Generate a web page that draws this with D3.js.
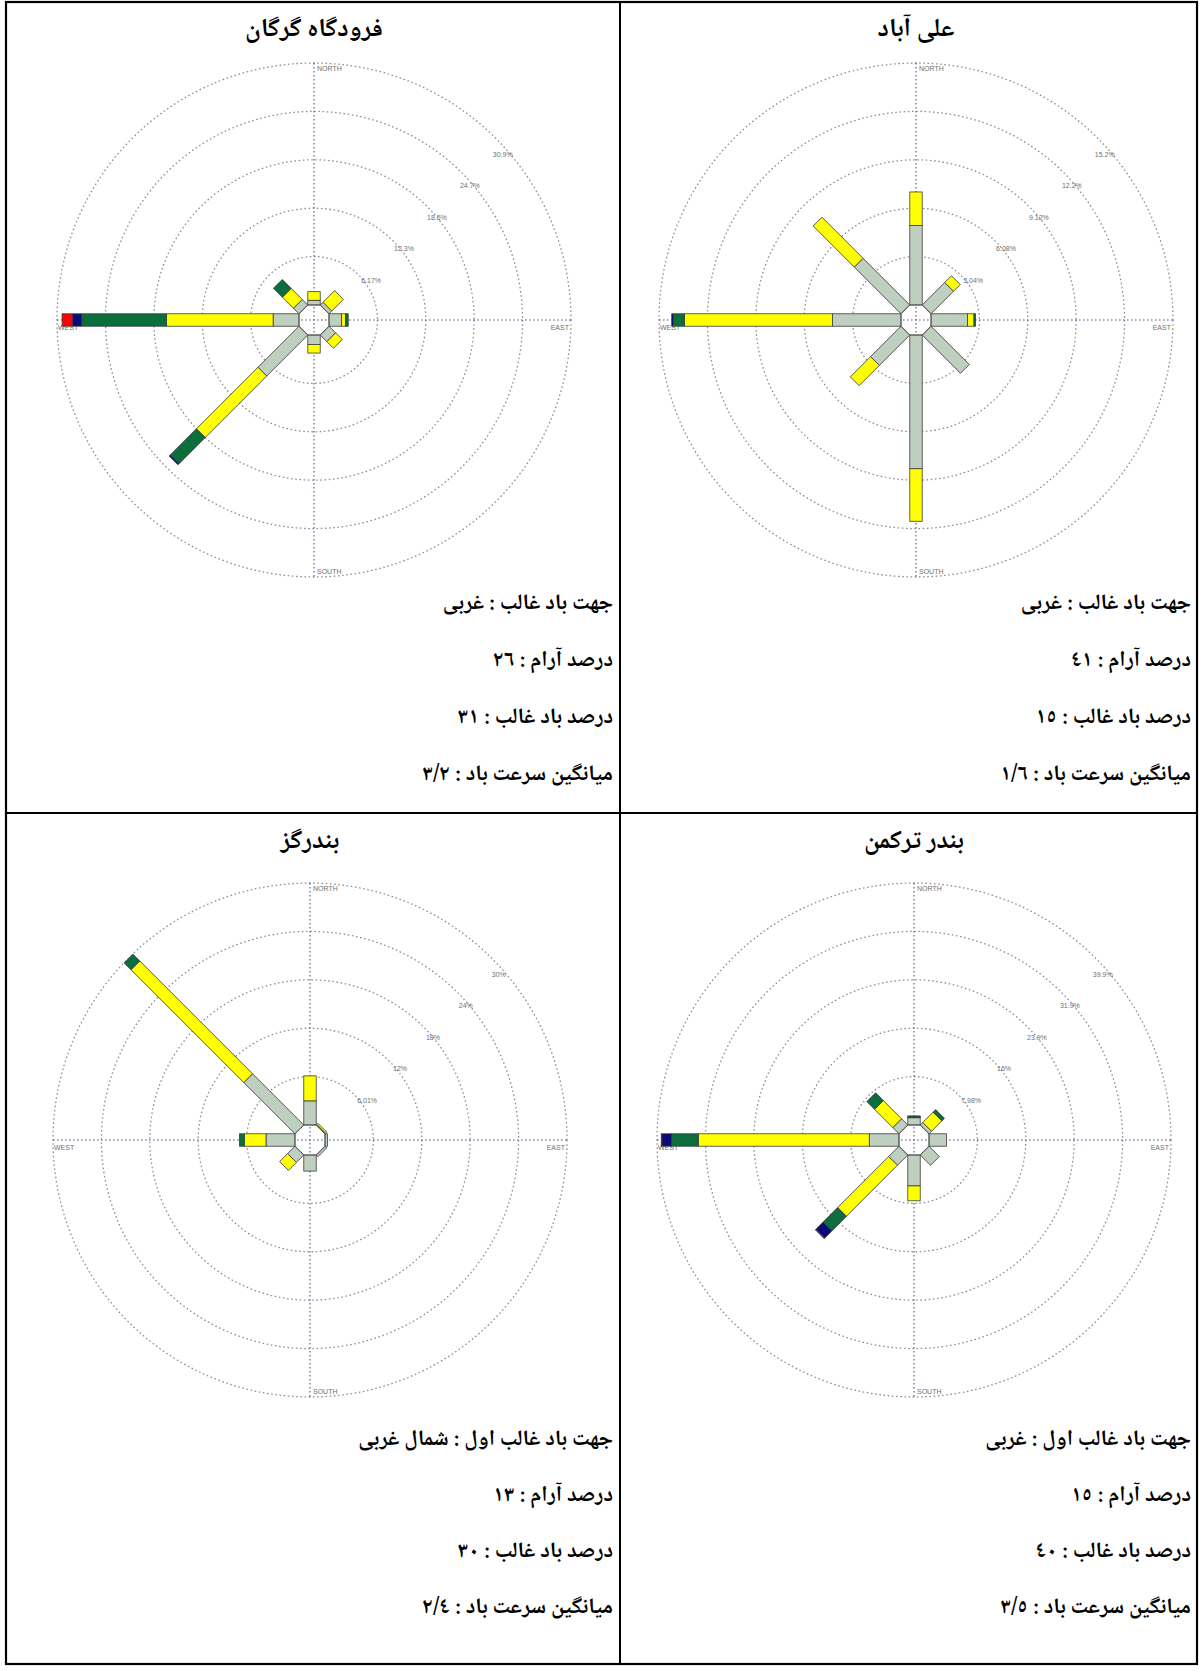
<!DOCTYPE html>
<html>
<head>
<meta charset="utf-8">
<script src="https://cdn.jsdelivr.net/npm/d3@7"></script>
<style>
  body { margin: 0; background: #fff; }
  svg { display: block; }
</style>
</head>
<body>
<div id="chart"></div>
<script>
//
// Data read off the four wind roses (percent of observations per direction and speed class)
//
const directions = ['N', 'NE', 'E', 'SE', 'S', 'SW', 'W', 'NW']
const speedClasses = ['0.5-2.1', '2.1-3.6', '3.6-5.7', '5.7-8.8', '8.8-11.1', '>=11.1']
const classColours = ['#bfcfbf', '#ffff00', '#0b6e3c', '#0a0a78', '#ff0000', '#d040d0']

const stationNames = ['فرودگاه گرگان', 'علی آباد', 'بندرگز', 'بندر ترکمن']

// rows follow `directions`, columns follow `speedClasses`
const gorganFreq = [
  [0.6, 1.1, 0, 0, 0, 0],
  [0.5, 2.1, 0, 0, 0, 0],
  [1.6, 0.5, 0.35, 0, 0, 0],
  [1.2, 1.2, 0, 0, 0, 0],
  [1.2, 1.1, 0, 0, 0, 0],
  [7.4, 11.1, 4.7, 0.2, 0, 0],
  [3.3, 13.6, 10.8, 1.2, 1.3, 0],
  [1.0, 2.0, 1.6, 0, 0, 0]
]
const aliabadFreq = [
  [5.0, 2.1, 0, 0, 0, 0],
  [2.0, 0.6, 0, 0, 0, 0],
  [2.3, 0.4, 0.1, 0, 0, 0],
  [3.4, 0, 0, 0, 0, 0],
  [8.4, 3.3, 0, 0, 0, 0],
  [2.7, 1.8, 0, 0, 0, 0],
  [4.3, 9.3, 0.7, 0.1, 0, 0],
  [4.15, 3.65, 0, 0, 0, 0]
]
const bandarGazFreq = [
  [3.0, 3.1, 0, 0, 0, 0],
  [0.1, 0.2, 0, 0, 0, 0],
  [0.3, 0, 0, 0, 0, 0],
  [0.3, 0, 0, 0, 0, 0],
  [2.0, 0, 0, 0, 0, 0],
  [1.3, 1.4, 0, 0, 0, 0],
  [3.6, 2.7, 0.6, 0, 0, 0],
  [9.0, 19.8, 1.2, 0, 0, 0]
]
const torkamanFreq = [
  [1.2, 0.1, 0.2, 0, 0, 0],
  [0.6, 2.4, 0.6, 0, 0, 0],
  [2.9, 0, 0, 0, 0, 0],
  [2.4, 0, 0, 0, 0, 0],
  [5.1, 2.45, 0, 0, 0, 0],
  [2.4, 11.9, 3.4, 1.7, 0, 0.1],
  [4.9, 28.2, 4.4, 1.6, 0.1, 0],
  [1.45, 4.25, 1.8, 0, 0, 0]
]
const stationFreqs = [gorganFreq, aliabadFreq, bandarGazFreq, torkamanFreq]

// ring step (%) and ring labels of each rose
const ringSteps = [6.17, 3.04, 6.01, 7.98]
const ringLabels = [
  ['6.17%', '12.3%', '18.5%', '24.7%', '30.9%'],
  ['3.04%', '6.08%', '9.12%', '12.2%', '15.2%'],
  ['6.01%', '12%', '18%', '24%', '30%'],
  ['7.98%', '16%', '23.9%', '31.9%', '39.9%']
]

// summary text under each rose
const dominantDirection = ['غربی', 'غربی', 'شمال غربی', 'غربی']
const firstRank = [false, false, true, true]
const calmPercent = [26, 41, 13, 15]
const dominantPercent = [31, 15, 30, 40]
const meanSpeed = [3.2, 1.6, 2.4, 3.5]

//
// Layout
//
const W = 1199
const H = 1671
const table = { left: 6, right: 1197, top: 2, bottom: 1664, col: 620, row: 813 }
const panels = [
  { cx: 314, cy: 320, titleY: 36, textRight: 613, lineY: [609, 666, 723, 780] },
  { cx: 916, cy: 320, titleY: 36, textRight: 1191, lineY: [609, 666, 723, 780] },
  { cx: 310, cy: 1140, titleY: 848, textRight: 613, lineY: [1445, 1501, 1557, 1613] },
  { cx: 914, cy: 1140, titleY: 848, textRight: 1191, lineY: [1445, 1501, 1557, 1613] }
]
const R_OUTER = 257
const R0 = 15
const BAR_W = 2 * R0 * Math.tan(Math.PI / 8)
const textFont = '"Noto Naskh Arabic", "Noto Sans Arabic", "DejaVu Sans", sans-serif'
const smallFont = '"Liberation Sans", Arial, sans-serif'

const svg = d3.select('#chart').append('svg')
  .attr('width', W)
  .attr('height', H)
  .attr('viewBox', `0 0 ${W} ${H}`)

svg.append('rect').attr('width', W).attr('height', H).attr('fill', '#fff')

function toArabicDigits (s) {
  return String(s).replace(/\./g, '/').replace(/[0-9]/g, d => String.fromCharCode(0x0660 + (+d)))
}

function drawRose (g, freq, step, labels) {
  const r = d3.scaleLinear().domain([0, step * 5]).range([R0, R_OUTER])
  const ringValues = d3.range(1, 6).map(k => k * step)

  // rings
  g.append('g').selectAll('circle')
    .data(ringValues)
    .enter()
    .append('circle')
      .attr('r', d => r(d))
      .attr('fill', 'none')
      .attr('stroke', '#8e8e9e')
      .attr('stroke-width', 1.3)
      .attr('stroke-dasharray', '1.6 2.6')

  // axes
  const axes = g.append('g')
  axes.append('line').attr('x1', -R_OUTER).attr('x2', R_OUTER).attr('y1', 0).attr('y2', 0)
  axes.append('line').attr('y1', -R_OUTER).attr('y2', R_OUTER).attr('x1', 0).attr('x2', 0)
  axes.selectAll('line')
    .attr('stroke', '#4e4e8c')
    .attr('stroke-width', 1.1)
    .attr('stroke-dasharray', '1.6 2.4')

  // compass labels
  const compass = g.append('g')
    .attr('font-family', smallFont)
    .attr('font-size', 7)
    .attr('fill', '#707070')
  compass.append('text').attr('x', 3).attr('y', -R_OUTER + 8).text('NORTH')
  compass.append('text').attr('x', 3).attr('y', R_OUTER - 3).text('SOUTH')
  compass.append('text').attr('x', -R_OUTER + 1).attr('y', 10).text('WEST')
  compass.append('text').attr('x', R_OUTER - 2).attr('y', 10).attr('text-anchor', 'end').text('EAST')

  // ring labels
  g.append('g').selectAll('text')
    .data(ringValues)
    .enter()
    .append('text')
      .attr('x', d => r(d) * 0.68 + 14)
      .attr('y', d => -r(d) * 0.65 + 4)
      .attr('text-anchor', 'middle')
      .attr('font-family', smallFont)
      .attr('font-size', 7)
      .attr('fill', '#707070')
      .text((d, i) => labels[i])

  // stacked bars, one series per speed class
  const series = d3.stack()
    .keys(d3.range(speedClasses.length))
    .value((row, k) => row[k] || 0)(freq)

  series.forEach((s, k) => {
    g.append('g').selectAll('rect')
      .data(s.map((seg, j) => ({ y0: seg[0], y1: seg[1], dir: j })).filter(d => d.y1 > d.y0))
      .enter()
      .append('rect')
        .attr('transform', d => `rotate(${d.dir * 45})`)
        .attr('x', -BAR_W / 2)
        .attr('y', d => -r(d.y1))
        .attr('width', BAR_W)
        .attr('height', d => r(d.y1) - r(d.y0))
        .attr('fill', classColours[k])
        .attr('stroke', '#3c3c3c')
        .attr('stroke-width', 0.8)
  })

  // calm octagon
  const rc = R0 / Math.cos(Math.PI / 8)
  const pts = d3.range(8).map(k => {
    const t = (k * 45 + 22.5) * Math.PI / 180
    return [rc * Math.sin(t), -rc * Math.cos(t)]
  })
  g.append('path')
    .attr('d', d3.line()(pts) + 'Z')
    .attr('fill', 'none')
    .attr('stroke', '#555')
    .attr('stroke-width', 0.9)
}

panels.forEach((p, i) => {
  svg.append('text')
    .attr('x', p.cx)
    .attr('y', p.titleY)
    .attr('text-anchor', 'middle')
    .attr('direction', 'rtl')
    .attr('font-family', textFont)
    .attr('font-weight', 'bold')
    .attr('font-size', 26)
    .attr('fill', '#000')
    .text(stationNames[i])

  const rose = svg.append('g').attr('transform', `translate(${p.cx},${p.cy})`)
  drawRose(rose, stationFreqs[i], ringSteps[i], ringLabels[i])

  const lines = [
    'جهت باد غالب' + (firstRank[i] ? ' اول' : '') + ' : ' + dominantDirection[i],
    'درصد آرام : ' + toArabicDigits(calmPercent[i]),
    'درصد باد غالب : ' + toArabicDigits(dominantPercent[i]),
    'میانگین سرعت باد : ' + toArabicDigits(meanSpeed[i])
  ]
  svg.append('g').selectAll('text')
    .data(lines)
    .enter()
    .append('text')
      .attr('x', p.textRight)
      .attr('y', (d, j) => p.lineY[j])
      .attr('direction', 'rtl')
      .attr('text-anchor', 'start')
      .attr('font-family', textFont)
      .attr('font-weight', 'bold')
      .attr('font-size', 22)
      .attr('fill', '#000')
      .text(d => d)
})

// table grid
const grid = svg.append('g').attr('stroke', '#000').attr('fill', 'none')
grid.append('rect')
  .attr('x', table.left)
  .attr('y', table.top)
  .attr('width', table.right - table.left)
  .attr('height', table.bottom - table.top)
  .attr('stroke-width', 2.2)
grid.append('line')
  .attr('x1', table.col).attr('x2', table.col)
  .attr('y1', table.top).attr('y2', table.bottom)
  .attr('stroke-width', 2)
grid.append('line')
  .attr('x1', table.left).attr('x2', table.right)
  .attr('y1', table.row).attr('y2', table.row)
  .attr('stroke-width', 2)
</script>
</body>
</html>
